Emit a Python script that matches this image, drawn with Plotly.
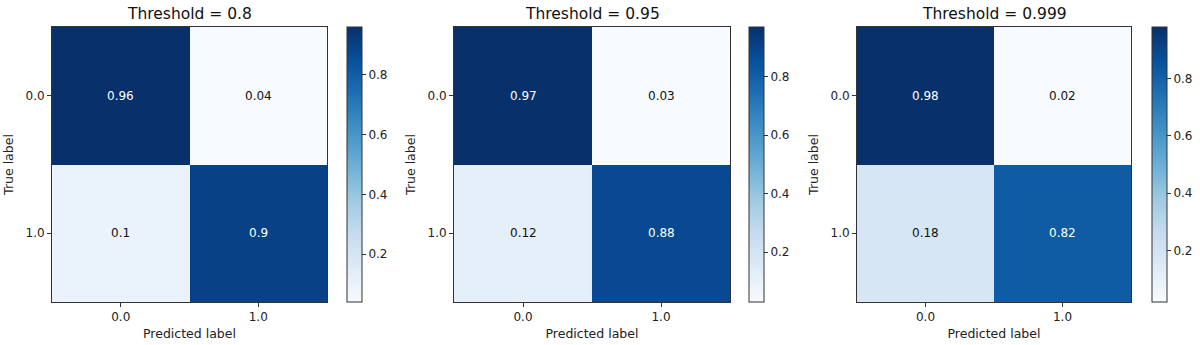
import plotly.graph_objects as go

labels = ["0.0", "1.0"]
thresholds = ["0.8", "0.95", "0.999"]
cm_08 = [[0.96, 0.04], [0.10, 0.90]]
cm_095 = [[0.97, 0.03], [0.12, 0.88]]
cm_0999 = [[0.98, 0.02], [0.18, 0.82]]
matrices = [cm_08, cm_095, cm_0999]

W, H = 1200, 345
# pixel layouts: heatmap left/right, colorbar left
panels = [(52, 327, 347), (454, 730, 749), (857, 1131, 1152)]
top_px, bot_px = 27, 302
ydom = [1 - bot_px / H, 1 - top_px / H]

FONT = "DejaVu Sans"
fig = go.Figure()
annotations = []
for i, (cm, thr, (xl, xr, cbl)) in enumerate(zip(matrices, thresholds, panels)):
    ax = "" if i == 0 else str(i + 1)
    vals = [v for row in cm for v in row]
    zmin, zmax = min(vals), max(vals)
    fig.add_trace(go.Heatmap(
        z=cm, x=[0, 1], y=[0, 1],
        colorscale="Blues", zmin=zmin, zmax=zmax,
        xaxis="x" + ax, yaxis="y" + ax, hoverinfo="skip",
        colorbar=dict(
            x=cbl / W, xanchor="left", xref="paper",
            y=1 - (top_px + bot_px) / 2 / H, yanchor="middle",
            len=bot_px - top_px, lenmode="pixels",
            thickness=15, thicknessmode="pixels",
            xpad=0, ypad=0,
            outlinecolor="#333333", outlinewidth=1,
            tickvals=[0.2, 0.4, 0.6, 0.8], ticktext=["0.2", "0.4", "0.6", "0.8"],
            ticks="outside", ticklen=4, tickcolor="#333333",
            tickfont=dict(family=FONT, size=12, color="#222222"),
        ),
    ))
    thresh_mid = (zmin + zmax) / 2
    for r in range(2):
        for c in range(2):
            v = cm[r][c]
            annotations.append(dict(
                x=c, y=r, xref="x" + ax, yref="y" + ax,
                text=f"{v:g}", showarrow=False,
                font=dict(family=FONT, size=12, color="white" if v > thresh_mid else "#111111"),
            ))
    annotations.append(dict(
        x=(xl + xr) / 2 / W, y=1 - 14 / H, xref="paper", yref="paper",
        text=f"Threshold = {thr}", showarrow=False, xanchor="center", yanchor="middle",
        font=dict(family=FONT, size=15.5, color="#111111"),
    ))
    xaxis = dict(
        domain=[xl / W, xr / W], anchor="y" + ax,
        range=[-0.5, 1.5], tickvals=[0, 1], ticktext=labels,
        showline=True, mirror=True, linecolor="#333333", linewidth=1,
        ticks="outside", ticklen=4, tickcolor="#333333", showgrid=False, zeroline=False,
        tickfont=dict(family=FONT, size=12, color="#222222"),
        title=dict(text="Predicted label", standoff=5, font=dict(family=FONT, size=12.5, color="#222222")),
    )
    yaxis = dict(
        domain=ydom, anchor="x" + ax,
        range=[1.5, -0.5], tickvals=[0, 1], ticktext=labels,
        showline=True, mirror=True, linecolor="#333333", linewidth=1,
        ticks="outside", ticklen=4, tickcolor="#333333", showgrid=False, zeroline=False,
        tickfont=dict(family=FONT, size=12, color="#222222"),
        title=dict(text="True label", standoff=9, font=dict(family=FONT, size=12.5, color="#222222")),
    )
    fig.update_layout(**{"xaxis" + ax: xaxis, "yaxis" + ax: yaxis})

fig.update_layout(
    width=W, height=H, margin=dict(l=0, r=0, t=0, b=0),
    paper_bgcolor="white", plot_bgcolor="white",
    annotations=annotations, showlegend=False,
    font=dict(family=FONT),
)
fig.write_html(
    "out.html",
    config={"displayModeBar": False},
    post_script="document.body.style.margin='0';document.body.style.overflow='hidden';",
)
